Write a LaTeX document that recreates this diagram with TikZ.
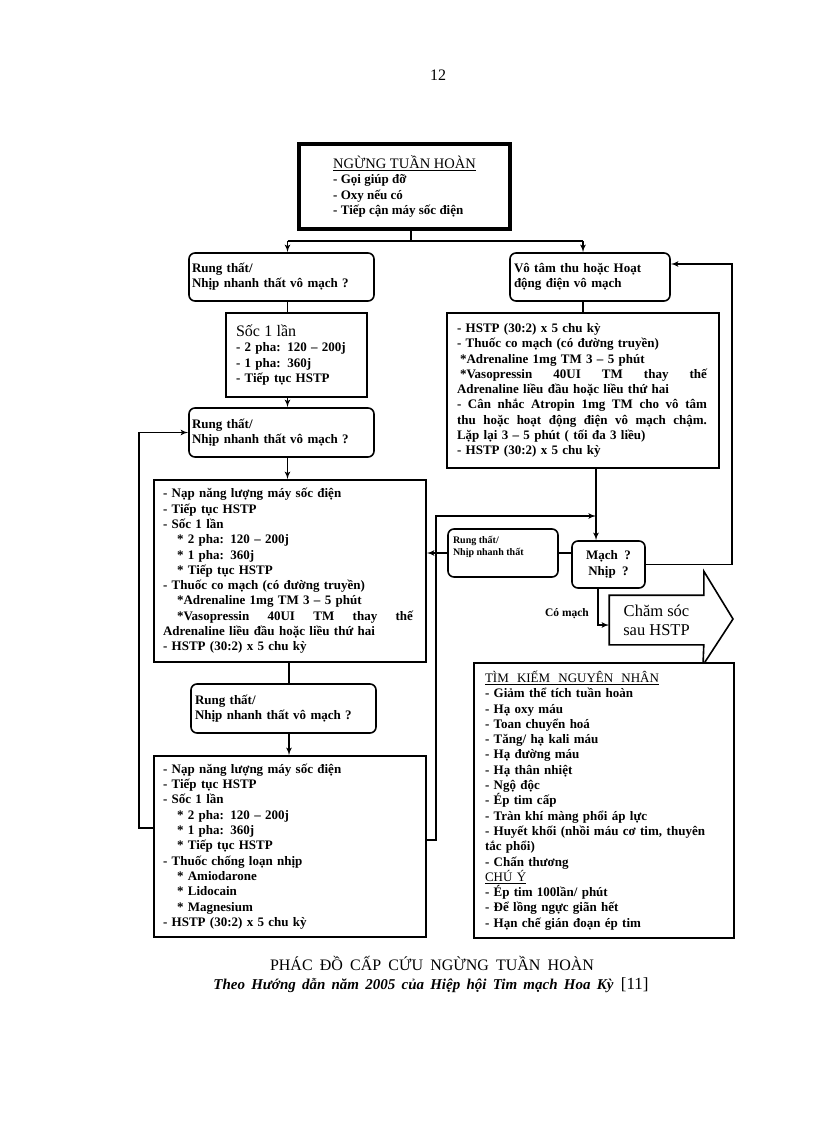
\documentclass[tikz,border=0pt]{standalone}
\usepackage{fontspec}
\setmainfont{Liberation Serif}
\usetikzlibrary{arrows,positioning,calc}

\newcommand{\spreadline}[2]{\makebox[#1][s]{\spaceskip=0pt\xspaceskip=0pt\relax #2}}

\begin{document}
\begin{tikzpicture}[
    x=1pt, y=-1pt,
    line width=1.6pt,
    box/.style={
        rectangle,
        draw,
        align=left,
        inner ysep=3pt,
        font=\fontsize{13}{15.3}\selectfont\bfseries
    },
    ask/.style={
        box,
        rounded corners=6pt
    },
    line/.style={
        draw,
        line width=1.6pt
    },
    arrow/.style={
        line,
        -latex'
    }
]

    \fill [white] (0,0) rectangle (816,1123);
    \useasboundingbox (0,0) rectangle (816,1123);

    % Page number
    \node [font=\fontsize{16}{18}\selectfont] (pageno) at (438,75) {12};

    % Nodes
    \node [box, line width=3.2pt, minimum width=211, minimum height=85] (stop) at (404.5,186.5)
        {{\fontsize{14.5}{17}\selectfont\mdseries\underline{NGỪNG TUẦN HOÀN}}\\- Gọi giúp đỡ\\- Oxy nếu có\\- Tiếp cận máy sốc điện};

    \node [ask, text width=179, inner xsep=3, minimum height=48] (vf1) at (281.5,277)
        {Rung thất/\\Nhịp nhanh thất vô mạch ?};
    \node [ask, text width=152, inner xsep=4, minimum height=48] (asys) at (590,277)
        {Vô tâm thu hoặc Hoạt\\động điện vô mạch};

    \node [box, text width=121, inner xsep=10, minimum height=84] (shock1) at (296.5,355)
        {{\fontsize{16}{18}\selectfont\mdseries Sốc 1 lần}\\- 2 pha: 120 – 200j\\- 1 pha: 360j\\- Tiếp tục HSTP};

    \node [ask, text width=179, inner xsep=3, minimum height=49] (vf2) at (281.5,432.5)
        {Rung thất/\\Nhịp nhanh thất vô mạch ?};

    \node [box, text width=252, inner xsep=10, minimum height=155] (drugA) at (583,390.5)
        {- HSTP (30:2) x 5 chu kỳ\\
         - Thuốc co mạch (có đường truyền)\\
         \hspace*{3pt}*Adrenaline 1mg TM 3 – 5 phút\\
         \spreadline{250pt}{\hspace*{3pt}*Vasopressin 40UI TM thay thế}\\
         Adrenaline liều đầu hoặc liều thứ hai\\
         \spreadline{250pt}{- Cân nhắc Atropin 1mg TM cho vô tâm}\\
         \spreadline{250pt}{thu hoặc hoạt động điện vô mạch chậm.}\\
         Lặp lại 3 – 5 phút ( tối đa 3 liều)\\
         - HSTP (30:2) x 5 chu kỳ};

    \node [box, text width=254, inner xsep=9, minimum height=182] (shock2) at (290,571)
        {- Nạp năng lượng máy sốc điện\\
         - Tiếp tục HSTP\\
         - Sốc 1 lần\\
         \hspace*{14pt}* 2 pha: 120 – 200j\\
         \hspace*{14pt}* 1 pha: 360j\\
         \hspace*{14pt}* Tiếp tục HSTP\\
         - Thuốc co mạch (có đường truyền)\\
         \hspace*{14pt}*Adrenaline 1mg TM 3 – 5 phút\\
         \spreadline{250pt}{\hspace*{14pt}*Vasopressin 40UI TM thay thế}\\
         Adrenaline liều đầu hoặc liều thứ hai\\
         - HSTP (30:2) x 5 chu kỳ};

    \node [ask, text width=177, inner xsep=4, minimum height=49] (vf3) at (283.5,708.5)
        {Rung thất/\\Nhịp nhanh thất vô mạch ?};

    \node [box, text width=254, inner xsep=9, minimum height=181] (shock3) at (290,846.5)
        {- Nạp năng lượng máy sốc điện\\
         - Tiếp tục HSTP\\
         - Sốc 1 lần\\
         \hspace*{14pt}* 2 pha: 120 – 200j\\
         \hspace*{14pt}* 1 pha: 360j\\
         \hspace*{14pt}* Tiếp tục HSTP\\
         - Thuốc chống loạn nhịp\\
         \hspace*{14pt}* Amiodarone\\
         \hspace*{14pt}* Lidocain\\
         \hspace*{14pt}* Magnesium\\
         - HSTP (30:2) x 5 chu kỳ};

    \node [ask, minimum width=110, minimum height=48,
        label={[anchor=north west, align=left, inner sep=0pt, xshift=5pt, yshift=-7pt,
            font=\fontsize{10}{12}\selectfont\bfseries]north west:{Rung thất/\\Nhịp nhanh thất}}] (vfshort) at (503,553) {};

    \node [ask, align=center, minimum width=73, minimum height=47] (pulse) at (608.5,564.5)
        {Mạch\ \ ?\\Nhịp\ \ ?};

    % Post-resuscitation arrow
    \node [minimum width=93, minimum height=48, align=center,
        font=\fontsize{16.5}{19}\selectfont] (care) at (656.5,620) {Chăm sóc\\sau HSTP};
    \draw [line, line join=miter] (care.north west) -- (care.north east) -- ++(0,-24)
        -- (733,619) -- (703,665) -- (care.south east) -- (care.south west) -- cycle;

    \node [box, fill=white, text width=238, inner xsep=11, minimum height=275] (causes) at (604,800.5)
        {{\mdseries\underline{\spreadline{174pt}{TÌM KIẾM NGUYÊN NHÂN}}}\\
         - Giảm thể tích tuần hoàn\\
         - Hạ oxy máu\\
         - Toan chuyển hoá\\
         - Tăng/ hạ kali máu\\
         - Hạ đường máu\\
         - Hạ thân nhiệt\\
         - Ngộ độc\\
         - Ép tim cấp\\
         - Tràn khí màng phổi áp lực\\
         \spreadline{220pt}{- Huyết khối (nhồi máu cơ tim, thuyên}\\
         tắc phổi)\\
         - Chấn thương\\
         {\mdseries\underline{CHÚ Ý}}\\
         - Ép tim 100lần/ phút\\
         - Để lồng ngực giãn hết\\
         - Hạn chế gián đoạn ép tim};

    % Edges
    \coordinate (fork) at (411,241);
    \coordinate (forkL) at (287.5,241);
    \coordinate (forkR) at (583,241);
    \path [line] (stop.south -| fork) -- (fork);
    \path [line] (forkL) -- (forkR);
    \path [arrow] (forkL) -- (forkL |- vf1.north);
    \path [arrow] (forkR) -- (forkR |- asys.north);

    \path [line] (vf1.south -| forkL) -- (forkL |- shock1.north);
    \path [arrow] (shock1.south -| forkL) -- (forkL |- vf2.north);
    \path [arrow] (vf2.south -| forkL) -- (forkL |- shock2.north);
    \coordinate (mid) at (289,0);
    \path [line] (shock2.south -| mid) -- (mid |- vf3.north);
    \path [arrow] (vf3.south -| mid) -- (mid |- shock3.north);

    \coordinate (backL) at (139,828);
    \path [arrow] (shock3.west |- backL) -- (backL) |- (vf2.west);

    \coordinate (backR) at (436,840);
    \coordinate (join) at (596,516);
    \path [arrow] (shock3.east |- backR) -- (backR) |- (join);

    \path [line] (asys.south -| forkR) -- (forkR |- drugA.north);
    \path [arrow] (drugA.south -| join) -- (join |- pulse.north);

    \path [line] (pulse.west |- vfshort.east) -- (vfshort.east);
    \path [arrow] (vfshort.west) -- (shock2.east |- vfshort.west);

    \coordinate (backT) at (732,264);
    \path [arrow] (pulse.east) -| (backT) -- (asys.east |- backT);

    \coordinate (ok) at (598,625);
    \path [arrow] (pulse.south -| ok) -- (ok) -- (care.west |- ok);
    \node [font=\fontsize{11.5}{13}\selectfont\bfseries] (oklabel) at (567,614) {Có mạch};

    % Caption
    \node [font=\fontsize{16}{18}\selectfont] (title) at (432,963)
        {\makebox[324pt][s]{PHÁC ĐỒ CẤP CỨU NGỪNG TUẦN HOÀN}};
    \node [font=\fontsize{15}{17}\selectfont] (source) at (431,985)
        {\textbf{\textit{\makebox[400pt][s]{Theo Hướng dẫn năm 2005 của Hiệp hội Tim mạch Hoa Kỳ}}}\ \ {\fontsize{17}{18}\selectfont[11]}};

\end{tikzpicture}
\end{document}
